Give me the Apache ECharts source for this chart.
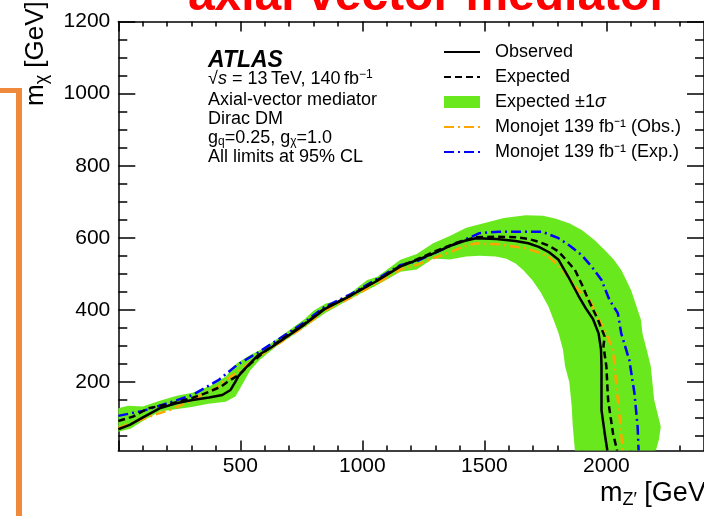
<!DOCTYPE html>
<html>
<head>
<meta charset="utf-8">
<script src="https://cdn.jsdelivr.net/npm/echarts@6.0.0/dist/echarts.min.js"></script>
<style>
html, body { margin: 0; padding: 0; background: #fff; }
#chart { width: 704px; height: 516px; }
</style>
</head>
<body>
<div id="chart"></div>
<script>
var FONT = '"Liberation Sans", Arial, Helvetica, sans-serif';

// tick positions / labels
var xLabels = [500, 1000, 1500, 2000];
var xMajorTicks = [0, 500, 1000, 1500, 2000];
var xMinorTicks = [100, 200, 300, 400, 600, 700, 800, 900, 1100, 1200, 1300, 1400,
  1600, 1700, 1800, 1900, 2100, 2200, 2300];
var yLabels = [200, 400, 600, 800, 1000, 1200];
var yMinorTicks = [50, 100, 150, 250, 300, 350, 450, 500, 550, 650, 700, 750,
  850, 900, 950, 1050, 1100, 1150];

// limit contours [m_Z', m_chi] in GeV
var observed = [[0, 69], [47, 81], [101, 102], [169, 127], [237, 141], [304, 150], [372, 157],
  [426, 164], [460, 178], [480, 201], [493, 217], [520, 238], [574, 275], [620, 293], [683, 322],
  [764, 360], [845, 402], [953, 440], [1061, 481], [1155, 520], [1223, 538], [1290, 556],
  [1360, 578], [1420, 592], [1466, 599], [1550, 597], [1628, 591], [1680, 585], [1723, 575],
  [1765, 560], [1804, 539], [1844, 492], [1885, 440], [1915, 405], [1945, 375], [1968, 335],
  [1978, 290], [1980, 243], [1980, 122], [1993, 58], [2004, 10]];

var expected = [[0, 92], [60, 104], [122, 127], [210, 139], [300, 155], [358, 169], [420, 187],
  [453, 203], [493, 219], [540, 250], [600, 285], [683, 325], [764, 362], [845, 404], [953, 441],
  [1061, 483], [1155, 522], [1223, 540], [1300, 563], [1380, 585], [1466, 602], [1550, 603],
  [1628, 602], [1680, 597], [1723, 589], [1765, 578], [1804, 562], [1840, 535], [1871, 511],
  [1900, 470], [1925, 430], [1966, 372], [1993, 326], [1988, 300], [2000, 243], [2007, 150],
  [2027, 58], [2044, 10]];

var monojetObs = [[0, 72], [34, 81], [95, 96], [156, 111], [210, 122], [304, 150], [358, 170],
  [399, 182], [439, 205], [493, 230], [575, 272], [683, 318], [764, 355], [845, 398], [953, 434],
  [1061, 474], [1155, 512], [1223, 525], [1290, 543], [1358, 560], [1410, 575], [1466, 585],
  [1560, 582], [1669, 571], [1720, 560], [1763, 548], [1805, 522], [1844, 492], [1885, 455],
  [1932, 427], [1960, 385], [1993, 344], [2027, 289], [2040, 196], [2054, 104], [2067, 10]];

var monojetExp = [[0, 106], [101, 120], [210, 143], [304, 164], [412, 206], [486, 247], [575, 283],
  [683, 330], [764, 366], [845, 408], [953, 444], [1061, 486], [1155, 524], [1223, 535], [1290, 556],
  [1358, 577], [1420, 595], [1480, 613], [1560, 617], [1650, 617], [1737, 617], [1804, 599],
  [1850, 578], [1899, 552], [1940, 520], [1980, 483], [2013, 427], [2047, 391], [2061, 334],
  [2094, 261], [2115, 169], [2128, 76], [2132, 10]];

// +-1 sigma band outline: outer edge left to right, then inner edge back
var band = [[0, 127], [40, 134], [100, 132], [170, 148], [240, 162], [304, 170], [380, 190],
  [440, 215], [486, 252], [540, 275], [600, 295], [683, 335], [764, 375], [800, 398], [850, 418],
  [900, 425], [953, 448], [1020, 483], [1061, 492], [1156, 539], [1223, 555], [1290, 585],
  [1358, 605], [1426, 628], [1493, 640], [1580, 655], [1669, 663], [1740, 661], [1790, 654],
  [1850, 640], [1899, 622], [1950, 595], [1993, 566], [2030, 540], [2061, 511], [2101, 455],
  [2115, 427], [2142, 372], [2148, 334], [2165, 290], [2182, 243], [2196, 150], [2223, 76],
  [2215, 40], [2203, 10],
  [1871, 10], [1862, 80], [1858, 132], [1848, 200], [1831, 243], [1822, 290], [1804, 335],
  [1785, 370], [1763, 409], [1730, 450], [1696, 483], [1660, 510], [1628, 529], [1590, 542],
  [1547, 548], [1480, 550], [1426, 548], [1358, 540], [1290, 543], [1223, 512], [1156, 506],
  [1050, 465], [1020, 455], [950, 430], [850, 392], [750, 346], [650, 300], [580, 262],
  [540, 232], [510, 195], [480, 160], [440, 145], [370, 140], [300, 131], [170, 118],
  [100, 92], [50, 70], [0, 62]];

var axisLineStyle = { color: '#000', width: 1.5 };

function makeAxis(dim, position, ticks, len, showLine, labels, margin) {
  return {
    type: 'value',
    position: position,
    min: dim === 'x' ? 0 : 10,
    max: dim === 'x' ? 2400 : 1200,
    splitLine: { show: false },
    axisLine: { show: showLine, onZero: false, lineStyle: axisLineStyle },
    axisTick: { show: true, inside: true, length: len, customValues: ticks, lineStyle: axisLineStyle },
    axisLabel: labels ? {
      show: true, customValues: labels, margin: margin,
      color: '#000', fontSize: 21, fontFamily: FONT,
      formatter: function (v) { return String(v); }
    } : { show: false }
  };
}

var rich = {
  sub: { fontSize: 12, lineHeight: 12, verticalAlign: 'bottom', fontFamily: FONT, fill: '#000' },
  sup: { fontSize: 12, lineHeight: 12, verticalAlign: 'top', fontFamily: FONT, fill: '#000' },
  it: { fontSize: 18, fontStyle: 'italic', fontFamily: FONT, fill: '#000' }
};

var titleRich = {
  sub: { fontSize: 18, lineHeight: 18, verticalAlign: 'bottom', fontFamily: FONT }
};

function label(y, text, extra) {
  var st = { text: text, x: 0, y: 0, fill: '#000', fontSize: 18, fontFamily: FONT,
    lineHeight: 20, align: 'left', verticalAlign: 'middle', rich: rich };
  for (var k in extra) st[k] = extra[k];
  return { type: 'text', x: 208, y: y, style: st, z: 10 };
}

var hideSymbol = { opacity: 0 };

var chart = echarts.init(document.getElementById('chart'), null, { renderer: 'canvas' });

var option = {
  backgroundColor: '#fff',
  animation: false,
  grid: { left: 118.3, top: 21.6, right: -6, bottom: 65.5 },
  xAxis: [
    makeAxis('x', 'bottom', xMajorTicks, 10, true, xLabels, 5),
    makeAxis('x', 'bottom', xMinorTicks, 5, false),
    makeAxis('x', 'top', xMajorTicks, 10, true),
    makeAxis('x', 'top', xMinorTicks, 5, false)
  ],
  yAxis: [
    makeAxis('y', 'left', yLabels, 17, true, yLabels, 8),
    makeAxis('y', 'left', yMinorTicks, 9, false),
    makeAxis('y', 'right', yLabels, 17, true),
    makeAxis('y', 'right', yMinorTicks, 9, false)
  ],
  legend: {
    left: 443, top: 42, orient: 'vertical', padding: 0,
    itemWidth: 36, itemHeight: 12, itemGap: 5,
    data: [
      { name: 'Observed', itemStyle: hideSymbol },
      { name: 'Expected', itemStyle: hideSymbol },
      { name: 'Expected \u00b11\u03c3', icon: 'rect' },
      { name: 'Monojet 139 fb\u207b\u00b9 (Obs.)', itemStyle: hideSymbol },
      { name: 'Monojet 139 fb\u207b\u00b9 (Exp.)', itemStyle: hideSymbol }
    ],
    formatter: function (name) {
      return name.replace('\u00b11\u03c3', '\u00b11{it|\u03c3}');
    },
    textStyle: {
      color: '#000', fontSize: 18, fontFamily: FONT, lineHeight: 20, padding: [0, 0, 0, 10],
      rich: { it: { fontStyle: 'italic', fontSize: 18, fontFamily: FONT } }
    }
  },
  series: [
    {
      name: 'Expected \u00b11\u03c3',
      type: 'custom',
      data: band,
      encode: { x: 0, y: 1 },
      itemStyle: { color: '#69e81e' },
      z: 1,
      renderItem: function (params, api) {
        if (params.dataIndex !== 0) return;
        var pts = band.map(function (p) { return api.coord(p); });
        return { type: 'polygon', shape: { points: pts }, style: { fill: '#69e81e' } };
      }
    },
    {
      name: 'Monojet 139 fb\u207b\u00b9 (Obs.)', type: 'line', data: monojetObs,
      symbol: 'none', showSymbol: false, z: 3, color: '#ffa500',
      lineStyle: { color: '#ffa500', width: 2.5, type: [10, 4, 2, 4] }
    },
    {
      name: 'Monojet 139 fb\u207b\u00b9 (Exp.)', type: 'line', data: monojetExp,
      symbol: 'none', showSymbol: false, z: 3, color: '#0000ff',
      lineStyle: { color: '#0000ff', width: 2.5, type: [10, 4, 2, 4] }
    },
    {
      name: 'Expected', type: 'line', data: expected,
      symbol: 'none', showSymbol: false, z: 4, color: '#000',
      lineStyle: { color: '#000', width: 2.5, type: [7, 4] }
    },
    {
      name: 'Observed', type: 'line', data: observed,
      symbol: 'none', showSymbol: false, z: 4, color: '#000',
      lineStyle: { color: '#000', width: 2.5, type: 'solid' }
    }
  ],
  graphic: [
    // slide title, cut off at the top
    { type: 'text', x: 428, y: -3, z: 10,
      style: { text: 'axial vector mediator', fill: '#ff0000', fontSize: 48, fontWeight: 'bold',
        fontFamily: FONT, align: 'center', verticalAlign: 'middle' } },
    // orange slide bracket
    { type: 'rect', shape: { x: 0, y: 88, width: 22, height: 5 }, style: { fill: '#ef8a3c' } },
    { type: 'rect', shape: { x: 16, y: 88, width: 6, height: 428 }, style: { fill: '#ef8a3c' } },
    // axis titles
    { type: 'text', x: 36, y: 106, rotation: Math.PI / 2, z: 10,
      style: { text: 'm{sub|\u03c7} [GeV]', fill: '#000', fontSize: 26, fontFamily: FONT,
        lineHeight: 30, align: 'left', verticalAlign: 'middle', rich: titleRich } },
    { type: 'text', x: 600, y: 494, z: 10,
      style: { text: 'm{sub|Z\u2032} [GeV]', fill: '#000', fontSize: 27, fontFamily: FONT,
        lineHeight: 30, align: 'left', verticalAlign: 'middle', rich: titleRich } },
    // ATLAS label block
    label(61, 'ATLAS', { fontSize: 23, fontWeight: 'bold', fontStyle: 'italic' }),
    label(79, '\u221a{it|s} = 13\u2009TeV, 140\u2009fb{sup|\u22121}'),
    label(100, 'Axial-vector mediator'),
    label(119, 'Dirac DM'),
    label(138, 'g{sub|q}=0.25, g{sub|\u03c7}=1.0'),
    label(157, 'All limits at 95% CL')
  ]
};

chart.setOption(option);
</script>
</body>
</html>
